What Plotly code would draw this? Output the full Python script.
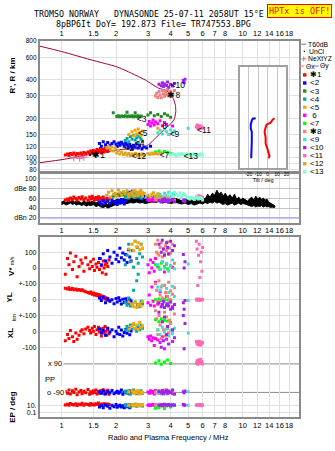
import math
import plotly.graph_objects as go

# ---------------- data ----------------
FREQ_TICKS = [1, 1.5, 2, 3, 4, 5, 6, 7, 8, 10, 12, 14, 16, 18]
FREQ_TICK_TEXT = ["1", "1.5", "2", "3", "4", "5", "6", "7", "8", "10", "12", "14", "16", "18"]
RANGE_TICKS = [80, 90, 100, 120, 150, 200, 300, 400, 600, 800]
AMP_TICKS = [20, 40, 60, 80, 100]
AMP_TICK_TEXT = ["dBn 20", "40", "60", "dBe 80", "100"]
P3_TICK_TEXT = ["100", "0", "+-100", "0", "+-100", "0", "-100", "10.", "0.1"]
TILT_TICKS = [-20, -10, 0, 10, 20]

ECHO_NAMES = ["\u27311", "<2", "<3", "<4", "<5", " 6", "<7", "\u27318", "<9", "<10", "<11", "<12", "<13"]
ECHO_COLORS = ["#ff0000", "#0000ff", "#228b22", "#00a8a8", "#ffa500", "#ff00ff", "#00ff00",
               "#f08080", "#40e0d0", "#a020f0", "#ff69b4", "#daa520", "#7fffd4"]

# model profile curve (MHz, km)
prof_f = [0.749, 1.0, 1.515, 2.0, 2.44, 2.91, 3.43, 3.75, 3.99, 4.14, 4.25, 4.27, 4.20, 4.04,
          3.75, 3.52, 3.30, 3.02, 2.67, 2.13, 1.46, 1.04, 0.749]
prof_h = [736, 665, 564, 508, 450, 398, 345, 332, 312, 286, 254, 226, 200, 184,
          168, 154, 141, 125, 117, 115, 105.5, 96.5, 90.4]

# echo 1 (red)
e1_f = [1.05, 1.08, 1.10, 1.12, 1.15, 1.17, 1.20, 1.22, 1.25, 1.28, 1.30, 1.33, 1.36, 1.40, 1.43, 1.45, 1.48,
        1.50, 1.52, 1.55, 1.57, 1.60, 1.62, 1.64, 1.66, 1.68, 1.70, 1.72, 1.74, 1.76, 1.78, 1.80, 1.83]
e1_r = [104, 106, 103, 107, 105, 108, 104, 107, 106, 108, 105, 109, 107, 110, 108, 112, 109, 113, 107, 111,
        115, 110, 113, 117, 108, 112, 115, 110, 118, 113, 116, 111, 114]
e1_a = [56, 58, 55, 60, 57, 62, 59, 56, 61, 58, 63, 57, 60, 55, 62, 58, 64, 59, 56, 61, 57, 63, 58, 52, 60,
        55, 62, 50, 57, 53, 59, 54, 58]
e1_v = [-40, 60, 20, 95, -10, 40, 75, -55, 10, 50, 30, -20, 65, 20, -5, 40, 10, 55, -15, 25, 5, 35, -10, 60,
        15, -30, 45, 0, 20, -40, 30, 10, 50]
e1_yl = [72, 68, 75, 65, 70, 62, 67, 60, 64, 58, 62, 55, 50, 45, 40, 48, 35, 42, 30, 38, 25, 32, 20, 28, 15,
         22, 10, 18, 5, 12, 0, 8, -5]
e1_xl = [-60, -20, -45, 5, -35, -65, -10, -50, -25, 0, 10, -15, 15, 25, 5, -10, 20, 0, 30, -20, 10, 25, -5,
         15, -30, 5, 20, -10, 30, 0, -25, 10, -15]
e1_pp = [-85, -95, -75, -100, -80, -90, -70, -105, -88, -78, -98, -83, -92, -72, -102, -86, -95, -80, -90,
         -75, -100, -84, -96, -79, -91, -88, -74, -99, -82, -93, -87, -77, -101]
e1_ep = [12, 20, 9, 30, 15, 11, 25, 8, 18, 14, 35, 10, 22, 16, 9, 28, 13, 19, 11, 24, 15, 40, 10, 17, 12, 21,
         9, 26, 14, 18, 11, 23, 16]

# echo 2 (blue)
e2_f = [1.62, 1.66, 1.70, 1.75, 1.80, 1.85, 1.90, 1.95, 2.00, 2.03, 2.07, 2.10, 2.14, 2.18, 2.22, 2.26, 2.30,
        2.34, 2.38, 2.42, 2.46, 2.50, 2.55, 2.60, 2.65, 2.70, 2.78, 2.85, 2.95, 3.10]
e2_r = [128, 122, 132, 125, 130, 124, 128, 132, 126, 121, 129, 124, 131, 127, 122, 128, 125, 119, 126, 122,
        117, 124, 120, 127, 118, 123, 116, 120, 118, 122]
e2_a = [52, 48, 55, 50, 54, 49, 56, 51, 53, 47, 55, 50, 57, 52, 48, 54, 70, 66, 72, 68, 74, 65, 71, 67, 60,
        62, 58, 64, 56, 60]
e2_v = [60, 20, 90, 45, 110, 70, 30, 100, 55, 80, 40, 125, 65, 95, 50, 85, 35, 115, 70, 45] + [None] * 10
e2_yl = [10, -5, 15, -20, 5, -10, 0, -25, 8, -15, 12, -5, -28, 3, -18, 6, -12, -22, 0, -8] + [None] * 10
e2_xl = [15, -10, 5, -25, 20, -5, 10, -35, 0, -15, 25, -20, 8, -30, -8, 12, -12, 18, -22, 2] + [None] * 10
e2_pp = [-88, -95, -80, -100, -85, -92, -78, -98, -90, -83, -96, -87, -75, -102, -89, -82, -94, -86, -99,
         -79] + [None] * 10
e2_ep = [3, 8, 2, 12, 5, 1.5, 9, 4, 15, 2.5, 6, 10, 3, 7, 1.8, 11, 4, 8, 2, 13] + [None] * 10

# echo 3 (dark green)
e3_f = [1.93, 2.02, 2.06, 2.10, 2.15, 2.20, 2.25, 2.30, 2.35, 2.40, 2.45, 2.50, 2.55, 2.60, 2.65, 2.70, 2.75,
        2.30, 2.55, 3.00, 3.10, 3.25, 3.40, 3.55, 3.70, 3.85, 4.00]
e3_r = [222, 208, 210, 207, 209, 208, 210, 207, 209, 208, 210, 207, 209, 208, 210, 207, 209, 224, 222, 213,
        222, 210, 215, 208, 218, 212, 205]
e3_a = [64, 66, 68, 65, 70, 67, 63, 69, 66, 68, 64, 67, 65, 69, 66, 63, 68, 70, 65, 62, 60, 63, 59, 61, 58,
        62, 60]

# echo 4 (teal)
e4_f = [2.25, 2.30, 2.35, 2.40, 2.45, 2.50, 2.55, 2.60, 2.62, 2.65, 2.70, 2.75, 2.80]
e4_r = [135, 140, 132, 145, 138, 148, 136, 142, 150, 130, 144, 138, 133]
e4_a = [62, 66, 60, 68, 64, 70, 61, 65, 67, 63, 69, 60, 64]
e4_v = [20, 80, 150, 40, 110, 5, 170, 60, 130, 30, 90, 150, 70]
e4_yl = [-20, -35, 10, -40, -25, 60, -15, 120, -30, 160, -44, -10, -28]
e4_xl = [10, 30, 5, 40, 20, 44, 15, 0, 35, 25, 10, 38, 20]
e4_pp = [-85, -95, -80, -100, -90, -75, -88, -98, -82, -93, -87, -79, -96]
e4_ep = [10, 6, 15, 4, 12, 8, 20, 5, 9, 14, 7, 11, 6]

# echo 5 (orange)
e5_f = [2.35, 2.45, 2.50, 2.55, 2.60, 2.65, 2.70, 2.75, 2.80, 3.40]
e5_r = [150, 158, 146, 162, 152, 166, 155, 148, 160, 168]
e5_a = [68, 72, 65, 75, 70, 66, 73, 69, 71, 64]
e5_v = [120, 150, 110, 170, 135, 160, 115, 145, 125, 90]
e5_yl = [-15, -30, -45, -20, -50, -35, -25, -40, -12, -30]
e5_xl = [15, 30, 50, 20, 40, 12, 55, 25, 35, 10]
e5_pp = [-88, -80, -96, -85, -92, -78, -100, -86, -90, -82]
e5_ep = [9, 14, 6, 11, 18, 8, 12, 7, 15, 10]

# echo 6 (magenta)
e6_f = [3.00, 3.05, 3.10, 3.15, 3.20, 3.25, 3.30, 3.40, 3.50, 3.60, 3.70, 3.80, 4.10]
e6_r = [180, 190, 175, 185, 195, 178, 188, 182, 192, 176, 186, 180, 175]
e6_a = [57, 55, 59, 56, 60, 54, 58, 56, 59, 55, 57, 60, 56]
e6_v = [20, -30, 50, 0, 35, -20, 60, 10, -10, 40, -25, 25, 5]
e6_yl = [-20, 30, -35, 80, -10, -40, 110, -25, 50, -30, -15, 20, -45]
e6_xl = [-35, -50, -30, -60, -40, -90, -45, -55, -70, -35, -110, -50, -65]
e6_pp = [-88, -95, -80, -92, -85, -100, -78, -90, -96, -83, -87, -75, -98]
e6_ep = [10, 14, 8, 12, 16, 9, 11, 13, 7, 15, 10, 12, 9]

# echo 7 (lime)
e7_f = [3.30, 3.45, 3.55, 3.70, 3.85, 4.00]
e7_r = [110, 112, 108, 111, 109, 107]
e7_a = [60, 58, 62, 59, 61, 57]
e7_v = [20, 0, 30, 10, -5, 15]
e7_yl = [0, 5, -5, 2, -2, 0]
e7_xl = [75, 60, 80, 70, 65, 55]
e7_pp = [95, 110, 88, 102, 115, 92]
e7_ep = [1.5, 2, 10, 1.2, 8, 3]

# echo 8 (salmon)
e8_f = [3.30, 3.35, 3.40, 3.45, 3.50, 3.55, 3.60, 3.65, 3.70, 3.75, 3.80, 3.85, 3.90, 3.95, 4.00, 4.10, 4.20]
e8_r = [300, 315, 292, 325, 305, 290, 330, 310, 298, 320, 305, 335, 300, 315, 325, 310, 330]
e8_a = [58, 56, 60, 57, 61, 55, 59, 62, 56, 58, 60, 57, 59, 55, 61, 58, 56]
e8_v = [150, 100, 175, 80, 130, 160, 70, 120, 90, 140, 110, 165, 85, 125, 95, 150, 30]
e8_yl = [100, 60, -10, 120, 30, 80, 10, -5, 90, 45, 70, 20, 110, 0, 55, 35, 75]
e8_xl = [130, 80, -20, 100, 40, -45, 60, 10, 120, -30, 90, 20, -10, 70, 50, 0, 110]
e8_pp = [-90, -82, -96, -78, -88, -100, -85, -92, -75, -98, -87, -80, -94, -83, -90, -77, -97]
e8_ep = [12, 8, 15, 10, 20, 7, 13, 9, 16, 11, 6, 14, 10, 18, 8, 12, 9]

# echo 9 (turquoise)
e9_f = [3.40, 3.50, 3.60, 3.70, 3.80, 3.90, 4.00, 4.10, 4.20, 5.00]
e9_r = [155, 162, 152, 166, 158, 150, 163, 156, 160, 168]
e9_a = [64, 68, 62, 70, 66, 72, 63, 69, 67, 60]
e9_v = [20, -10, 40, 0, 30, -20, 10, 50, -5, 25]
e9_yl = [80, 60, 90, -10, 70, 45, -15, 85, 20, -5]
e9_xl = [10, -20, 25, -5, 15, -30, 5, -15, 20, -10]
e9_pp = [-88, -95, -82, -90, -98, -85, -92, -78, -100, -86]
e9_ep = [10, 12, 8, 14, 9, 11, 15, 7, 13, 10]

# echo 10 (purple)
e10_f = [3.45, 3.55, 3.60, 3.65, 3.70, 3.80, 3.85, 3.90, 4.00, 4.10, 4.20, 4.70, 4.75, 4.80]
e10_r = [370, 360, 380, 355, 372, 362, 385, 350, 368, 358, 375, 395, 380, 405]
e10_a = [55, 52, 57, 54, 58, 53, 56, 51, 55, 57, 52, 54, 56, 53]
e10_v = [150, 100, 175, 120, 80, 160, 130, 90, 170, 110, 140, 85, 0, 40]
e10_yl = [-20, -45, -30, -10, -50, -35, -25, -40, -15, -55, -30, -20, -60, -5]
e10_xl = [120, -100, 60, -60, 90, -20, 30, -80, 140, 10, -40, 100, -110, 50]
e10_pp = [-85, -92, -78, -98, -88, -80, -95, -83, -90, -75, -100, -86, -93, -81]
e10_ep = [10, 14, 7, 12, 18, 9, 11, 15, 8, 13, 10, 16, 12, 9]

# echo 11 (pink)
e11_f = [5.55, 5.60, 5.65, 5.70, 5.75, 5.80, 5.85, 5.90, 5.95, 6.00]
e11_r = [172, 178, 168, 175, 170, 176, 168, 173, 171, 169]
e11_a = [62, 60, 64, 61, 65, 59, 63, 60, 62, 61]
e11_v = [170, 120, -110, 80, 150, -60, 40, 100, -20, 130]
e11_yl = [2, -3, 0, 4, -2, 1, -4, 3, 0, -1]
e11_xl = [-65, -80, -70, -85, -62, -75, -88, -68, -78, -72]
e11_pp = [95, 110, 88, 115, 100, 92, 120, 98, 105, 90]
e11_ep = [10, 14, 8, 12, 9, 15, 11, 7, 13, 10]

# echo 12 (gold)
e12_f = [1.78, 1.82, 1.86, 1.90, 1.94, 1.98, 2.02, 2.06, 2.10, 2.15, 2.20, 2.25, 2.30, 2.35, 2.40, 2.45, 2.50,
         2.56, 2.62, 2.68, 2.74, 2.80, 2.86, 3.00, 3.08, 3.15, 3.22, 3.30, 3.40, 3.50]
e12_r = [118, 122, 115, 120, 112, 118, 108, 113, 106, 110, 105, 108, 104, 107, 103, 106, 104, 107, 103, 106,
         104, 106, 103, 107, 105, 108, 106, 107, 106, 108]
e12_a = [66, 72, 62, 75, 68, 70, 64, 77, 71, 66, 73, 69, 75, 63, 70, 67, 74, 65, 72, 68, 76, 64, 70, 66, 62,
         68, 71, 65, 69, 63]

# echo 13 (aquamarine)
e13_f = [3.90, 4.00, 4.10, 4.20, 4.30, 4.40, 4.50, 4.60, 4.70, 4.80, 4.90, 5.00, 5.10, 5.20, 5.30, 5.40, 5.50,
         5.60, 5.70, 5.80, 5.90, 6.00]
e13_r = [106, 104, 107, 105, 103, 106, 104, 107, 105, 103, 106, 104, 105, 103, 106, 104, 105, 103, 105, 104,
         106, 104]
e13_a = [66, 70, 64, 72, 68, 65, 71, 63, 69, 67, 62, 60, 58, 61, 59, 57, 60, 62, 58, 61, 59, 56]

# echo labels in the range panel
lab_text = ["\u27311", "<2", "<3", "<4", "<5", "6", "<7", "\u27318", "<9", "<10", "<11", "<12", "<13"]
lab_f = [1.48, 2.22, 2.60, 2.54, 2.64, 3.60, 3.48, 3.84, 3.95, 4.00, 5.60, 2.44, 4.72]
lab_h = [102, 117, 197, 128, 153, 173, 103, 300, 150, 360, 161, 100, 100]

# unclassified and next-layer markers
uncl_f = [1.44, 1.49, 1.53, 1.57]
uncl_r = [104, 107, 103, 106]
nxt_f = [1.17, 1.26, 1.33]
nxt_r = [99, 98, 100]

# background noise band (dB)
noise_f = [1.00, 1.03, 1.06, 1.09, 1.12, 1.15, 1.18, 1.21, 1.25, 1.29, 1.33, 1.37, 1.41, 1.45, 1.50, 1.55,
           1.60, 1.65, 1.70, 1.75, 1.80, 1.86, 1.92, 1.98, 2.05, 2.12, 2.20, 2.30, 2.40, 2.50, 2.60, 2.70,
           2.80, 2.90, 3.00, 3.15, 3.30, 3.45, 3.60, 3.75, 3.90, 4.05, 4.20, 4.40, 4.60, 4.80, 5.00, 5.20,
           5.40, 5.60, 5.80, 6.00, 6.20, 6.40, 6.60, 6.80, 7.00, 7.20, 7.40, 7.60, 7.80, 8.00, 8.25, 8.50,
           8.75, 9.00, 9.25, 9.50, 9.75, 10.0, 10.3, 10.6, 10.9, 11.2, 11.5, 11.8, 12.1, 12.4, 12.7, 13.0,
           13.3, 13.6, 13.9, 14.2, 14.5, 14.8, 15.1]
noise_lo = [47, 49, 46, 48, 50, 47, 49, 46, 48, 45, 47, 44, 46, 45, 47, 43, 45, 42, 41, 43, 40, 42, 44, 47,
            49, 48, 50, 49, 51, 50, 52, 50, 51, 49, 50, 52, 51, 53, 50, 52, 51, 49, 52, 50, 48, 50, 47, 49,
            46, 48, 50, 48, 51, 49, 52, 50, 53, 50, 52, 49, 47, 49, 46, 48, 50, 46, 48, 50, 47, 49, 48, 46,
            45, 43, 45, 42, 44, 43, 45, 42, 44, 42, 43, 41, 42, 41, 42]
noise_hi = [52, 54, 51, 55, 53, 56, 52, 55, 53, 50, 54, 51, 55, 52, 54, 50, 53, 49, 48, 51, 47, 52, 54, 56,
            58, 56, 59, 57, 60, 58, 61, 58, 60, 57, 59, 61, 58, 62, 59, 61, 58, 56, 60, 57, 55, 58, 56, 62,
            58, 65, 60, 63, 58, 68, 62, 70, 66, 76, 68, 72, 64, 70, 62, 67, 60, 68, 58, 62, 56, 60, 57, 54,
            58, 62, 56, 64, 58, 62, 57, 60, 56, 58, 52, 50, 47, 45, 44]

# tilt inset (deg vs km)
tiltx_h = [201.3, 196, 185.8, 179.3, 170.1, 158.5, 142.5, 128.1, 115.2, 107.4, 101.8, 98.2]
tiltx_d = [7.4, 5.3, 3.2, -1.1, -2.1, -3.2, -2.1, -2.1, 0.0, 1.1, 2.1, 1.1]
tilty_h = [201.3, 199.5, 192.7, 179.3, 167, 158.5, 132.7, 111.2, 98.2]
tilty_d = [-12.6, -15.8, -16.8, -17.9, -17.9, -16.8, -16.8, -16.8, -17.4]

# ---------------- assemble echo table ----------------
echoes = [
    dict(f=e1_f, r=e1_r, a=e1_a, v=e1_v, yl=e1_yl, xl=e1_xl, pp=e1_pp, ep=e1_ep),
    dict(f=e2_f, r=e2_r, a=e2_a, v=e2_v, yl=e2_yl, xl=e2_xl, pp=e2_pp, ep=e2_ep),
    dict(f=e3_f, r=e3_r, a=e3_a),
    dict(f=e4_f, r=e4_r, a=e4_a, v=e4_v, yl=e4_yl, xl=e4_xl, pp=e4_pp, ep=e4_ep),
    dict(f=e5_f, r=e5_r, a=e5_a, v=e5_v, yl=e5_yl, xl=e5_xl, pp=e5_pp, ep=e5_ep),
    dict(f=e6_f, r=e6_r, a=e6_a, v=e6_v, yl=e6_yl, xl=e6_xl, pp=e6_pp, ep=e6_ep),
    dict(f=e7_f, r=e7_r, a=e7_a, v=e7_v, yl=e7_yl, xl=e7_xl, pp=e7_pp, ep=e7_ep),
    dict(f=e8_f, r=e8_r, a=e8_a, v=e8_v, yl=e8_yl, xl=e8_xl, pp=e8_pp, ep=e8_ep),
    dict(f=e9_f, r=e9_r, a=e9_a, v=e9_v, yl=e9_yl, xl=e9_xl, pp=e9_pp, ep=e9_ep),
    dict(f=e10_f, r=e10_r, a=e10_a, v=e10_v, yl=e10_yl, xl=e10_xl, pp=e10_pp, ep=e10_ep),
    dict(f=e11_f, r=e11_r, a=e11_a, v=e11_v, yl=e11_yl, xl=e11_xl, pp=e11_pp, ep=e11_ep),
    dict(f=e12_f, r=e12_r, a=e12_a),
    dict(f=e13_f, r=e13_r, a=e13_a),
]

# ---------------- layout helpers ----------------
W, H = 335, 451
def PX(x): return x / W
def PY(y): return 1 - y / H

FONT = "Liberation Sans, Arial, sans-serif"
MONO = "DejaVu Sans Mono, monospace"
GRID = "#e0e0e0"
GRID2 = "#c4c4c4"
FRAME = "#8a8a8a"

# stacked sub-bands of the lower panel (offset units: 100 m/s or 100 km = 16 px)
OFF_V, OFF_YL, OFF_XL = 0, -200, -400
PP_CENTER = -696
EP_CENTER, EP_SCALE = -889.5, 22.5
P3_TICKS = [100, 0, -100, -200, -300, -400, -500, EP_CENTER + EP_SCALE, EP_CENTER - EP_SCALE]

def stack(vals, kind):
    out = []
    for v in vals:
        if v is None:
            out.append(None)
        elif kind == "v":
            out.append(v + OFF_V)
        elif kind == "yl":
            out.append(v + OFF_YL)
        elif kind == "xl":
            out.append(v + OFF_XL)
        elif kind == "pp":
            out.append(PP_CENTER + v)
        else:
            out.append(EP_CENTER + EP_SCALE * math.log10(v))
    return out

fig = go.Figure()
MK = dict(symbol="square", size=3, line=dict(width=0))

# ---- panel 1: range ----
fig.add_trace(go.Scatter(x=prof_f, y=prof_h, mode="lines", xaxis="x", yaxis="y",
                         line=dict(color="#a0003c", width=1, shape="spline", smoothing=0.6),
                         hoverinfo="skip"))
for e, c in zip(echoes, ECHO_COLORS):
    fig.add_trace(go.Scatter(x=e["f"], y=e["r"], mode="markers", xaxis="x", yaxis="y",
                             marker=dict(color=c, **MK), hoverinfo="skip"))
fig.add_trace(go.Scatter(x=uncl_f, y=uncl_r, mode="markers", xaxis="x", yaxis="y",
                         marker=dict(color="black", symbol="square", size=2), hoverinfo="skip"))
fig.add_trace(go.Scatter(x=nxt_f, y=nxt_r, mode="markers", xaxis="x", yaxis="y",
                         marker=dict(color="#e8609a", symbol="cross-thin", size=5,
                                     line=dict(color="#e8609a", width=1)), hoverinfo="skip"))
fig.add_trace(go.Scatter(x=lab_f, y=lab_h, mode="text", text=lab_text, textposition="middle right",
                         textfont=dict(family=FONT, size=8.5, color="black"), xaxis="x", yaxis="y",
                         hoverinfo="skip"))

# ---- panel 2: amplitude ----
fig.add_trace(go.Scatter(x=noise_f, y=noise_lo, mode="lines", xaxis="x2", yaxis="y2",
                         line=dict(color="black", width=1), hoverinfo="skip"))
fig.add_trace(go.Scatter(x=noise_f, y=noise_hi, mode="lines", xaxis="x2", yaxis="y2", fill="tonexty",
                         fillcolor="black", line=dict(color="black", width=1), hoverinfo="skip"))
for e, c in zip(echoes, ECHO_COLORS):
    fig.add_trace(go.Scatter(x=e["f"], y=e["a"], mode="markers", xaxis="x2", yaxis="y2",
                             marker=dict(color=c, **MK), hoverinfo="skip"))

# ---- panel 3: velocity / location / polarization ----
for e, c in zip(echoes, ECHO_COLORS):
    if "v" not in e:
        continue
    xs, ys = [], []
    for kind in ["v", "yl", "xl", "pp", "ep"]:
        for fv, yv in zip(e["f"], stack(e[kind], kind)):
            if yv is not None:
                xs.append(fv)
                ys.append(yv)
    fig.add_trace(go.Scatter(x=xs, y=ys, mode="markers", xaxis="x3", yaxis="y3",
                             marker=dict(color=c, **MK), hoverinfo="skip"))

# ---- inset: tilt ----
fig.add_trace(go.Scatter(x=tiltx_d, y=tiltx_h, mode="lines", xaxis="x4", yaxis="y4",
                         line=dict(color="#ff0000", width=2), hoverinfo="skip"))
fig.add_trace(go.Scatter(x=tilty_d, y=tilty_h, mode="lines", xaxis="x4", yaxis="y4",
                         line=dict(color="#0000ff", width=2), hoverinfo="skip"))

XR = [math.log10(0.758), math.log10(20.5)]
XD = [PX(40), PX(302)]
common = dict(showline=True, mirror=True, linecolor=FRAME, linewidth=1.5, ticks="",
              zeroline=False, showgrid=True, gridcolor=GRID, tickangle=0,
              tickfont=dict(size=7.5, family=FONT))

fig.update_layout(
    width=W, height=H, autosize=False, margin=dict(l=0, r=0, t=0, b=0),
    paper_bgcolor="white", plot_bgcolor="white", showlegend=False,
    font=dict(family=FONT, size=7.5, color="black"),
    xaxis=dict(domain=XD, anchor="y", type="log", range=XR, side="top",
               tickvals=FREQ_TICKS, ticktext=FREQ_TICK_TEXT, **common),
    yaxis=dict(domain=[PY(170), PY(38)], anchor="x", type="log", range=[1.892, 2.908],
               tickvals=RANGE_TICKS, ticktext=[str(v) for v in RANGE_TICKS],
               **{**common, "tickfont": dict(size=6.5, family=FONT)}),
    xaxis2=dict(domain=XD, anchor="y2", type="log", range=XR, side="bottom",
                tickvals=FREQ_TICKS, ticktext=FREQ_TICK_TEXT, **common),
    yaxis2=dict(domain=[PY(222), PY(173)], anchor="x2", range=[10.6, 108.6],
                tickvals=AMP_TICKS, ticktext=AMP_TICK_TEXT,
                **{**common, "gridcolor": GRID2, "tickfont": dict(size=7, family=FONT)}),
    xaxis3=dict(domain=XD, anchor="y3", type="log", range=XR, side="bottom",
                tickvals=FREQ_TICKS, ticktext=FREQ_TICK_TEXT, **common),
    yaxis3=dict(domain=[PY(419), PY(237)], anchor="x3", range=[-943.75, 193.75],
                tickvals=P3_TICKS, ticktext=P3_TICK_TEXT,
                **{**common, "tickfont": dict(size=7, family=FONT)}),
    xaxis4=dict(domain=[PX(242), PX(289)], anchor="y4", range=[-29.5, 20], tickvals=TILT_TICKS,
                ticktext=[str(v) for v in TILT_TICKS], showline=True, mirror=True, linecolor="#a0a0a0",
                linewidth=1.5, ticks="", zeroline=False, showgrid=True, gridcolor="#c8c8c8", tickangle=0,
                tickfont=dict(size=5, family=FONT),
                title=dict(text="Tilt / deg", font=dict(size=5.5, family=FONT), standoff=0)),
    yaxis4=dict(domain=[PY(167), PY(65)], anchor="x4", type="log", range=[1.9154, 2.7],
                showticklabels=False, showgrid=False, showline=True, mirror=True,
                linecolor="#a0a0a0", linewidth=1.5, ticks="", zeroline=False),
)

shapes = [
    dict(type="rect", xref="x4", yref="y4", x0=-29.5, x1=20, y0=10 ** 1.9154, y1=10 ** 2.7,
         fillcolor="white", line=dict(width=0), layer="below"),
    dict(type="line", xref="paper", yref="y2", x0=PX(40), x1=PX(302), y0=20, y1=20,
         line=dict(color="#b0b0f0", width=1.5), layer="above"),
    dict(type="line", xref="paper", yref="y3", x0=PX(63), x1=PX(302), y0=PP_CENTER + 90,
         y1=PP_CENTER + 90, line=dict(color="#8a8a8a", width=1), layer="below"),
    dict(type="line", xref="paper", yref="y3", x0=PX(63), x1=PX(302), y0=PP_CENTER - 90,
         y1=PP_CENTER - 90, line=dict(color="#8a8a8a", width=1), layer="below"),
]

ann = []
def txt(x, y, s, size=7.5, color="black", family=FONT, xanchor="center", angle=0, **kw):
    ann.append(dict(x=PX(x), y=PY(y), xref="paper", yref="paper", text=s, showarrow=False,
                    font=dict(size=size, color=color, family=family), xanchor=xanchor,
                    yanchor="middle", textangle=angle, **kw))

NB = "\u00a0"
txt(150, 11.5, "TROMSO NORWAY" + NB * 3 + "DYNASONDE 25-07-11 2058UT 15\u00b0E", size=8.3, family=MONO,
    borderpad=0)
txt(155, 20.8, "8pBP6It DoY= 192.873 File= TR747553.BPG", size=8.3, family=MONO, borderpad=0)
txt(302.5, 8, "HPTx is OFF!", size=8.5, color="#ff0000", family=MONO, bgcolor="#ffff00",
    bordercolor="#ff0000", borderwidth=1, borderpad=1)

# axis titles
txt(12.5, 73, "<b>R', R / km</b>", size=8, angle=-90)
txt(11, 266, "<b>V*</b> <span style='font-size:5.5px'>m/s</span>", size=8, angle=-90)
txt(10, 298, "<b>YL</b>", size=8, angle=-90)
txt(15, 318, "km", size=5.5, angle=-90)
txt(10, 334, "<b>XL</b>", size=8, angle=-90)
txt(12.5, 408, "<b>EP / deg</b>", size=8, angle=-90)
txt(170, 439, "Radio and Plasma Frequency / MHz", size=7.5)
txt(43, 381, "PP", size=7.5, xanchor="left")
ann.append(dict(x=PX(46), y=PP_CENTER + 90, xref="paper", yref="y3", text="x 90", showarrow=False,
                xanchor="left", yanchor="middle", font=dict(size=7.5, family=FONT), bgcolor="white"))
ann.append(dict(x=PX(45), y=PP_CENTER - 90, xref="paper", yref="y3", text="o -90", showarrow=False,
                xanchor="left", yanchor="middle", font=dict(size=7.5, family=FONT), bgcolor="white"))

# legend (right column)
def hline(x0, x1, y, color, w=1.2):
    shapes.append(dict(type="line", xref="paper", yref="paper", x0=PX(x0), x1=PX(x1), y0=PY(y),
                       y1=PY(y), line=dict(color=color, width=w)))

LEG = 6.8
hline(304, 309, 41.7, "#a0a0a0", 1.5)
txt(310, 41.7, "T60dB", size=LEG, xanchor="left", borderpad=0)
shapes.append(dict(type="rect", xref="paper", yref="paper", x0=PX(306.5), x1=PX(307.7), y0=PY(49.6),
                   y1=PY(48.4), fillcolor="black", line=dict(width=0)))
txt(311, 49, "UnCl", size=LEG, xanchor="left", borderpad=0)
hline(304, 309, 56.5, "#e8609a", 1)
shapes.append(dict(type="line", xref="paper", yref="paper", x0=PX(306.5), x1=PX(306.5), y0=PY(54),
                   y1=PY(59), line=dict(color="#e8609a", width=1)))
txt(310, 56.5, "NeXtYZ", size=LEG, xanchor="left", borderpad=0)
hline(302, 307, 63.8, "#ff8080")
txt(307.5, 63.8, "\u0398x", size=LEG, xanchor="left", borderpad=0)
hline(317, 321.5, 63.8, "#8080ff")
txt(322, 63.8, "\u0398y", size=LEG, xanchor="left", borderpad=0)
for i, (name, c) in enumerate(zip(ECHO_NAMES, ECHO_COLORS)):
    yc = 72.7 + 8.17 * i
    shapes.append(dict(type="rect", xref="paper", yref="paper", x0=PX(305.8), x1=PX(309.2),
                       y0=PY(yc + 1.7), y1=PY(yc - 1.7), fillcolor=c, line=dict(width=0)))
    txt(311.5, yc, name.replace(" ", NB), size=8, xanchor="left", borderpad=0)

fig.update_layout(shapes=shapes, annotations=ann)
fig.write_html("out.html")
